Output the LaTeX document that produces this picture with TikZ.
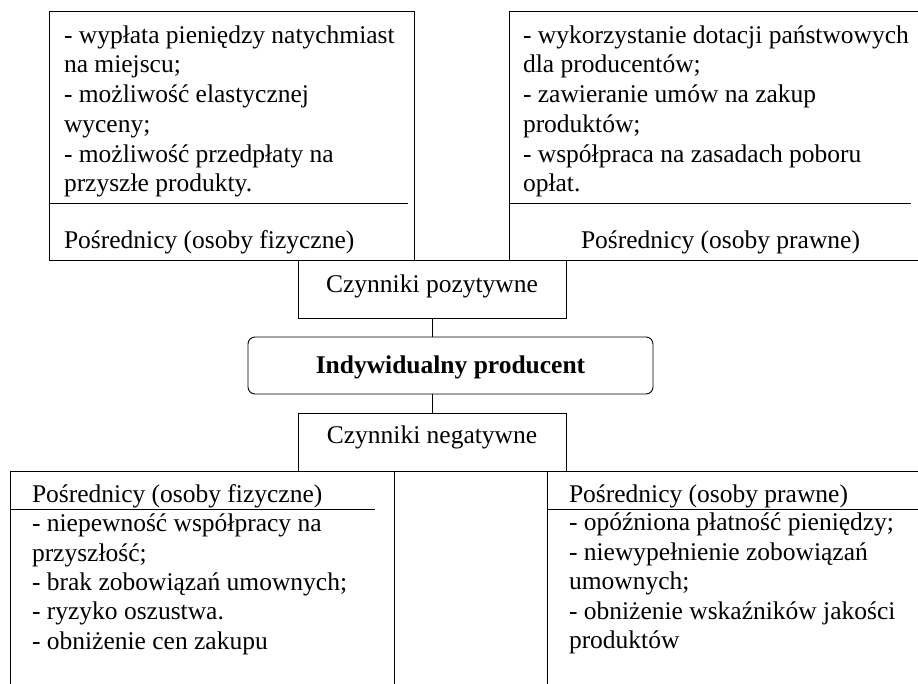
\documentclass[tikz,border=0pt]{standalone}
\usepackage{fontspec}
\setmainfont{Liberation Serif}
\begin{document}
\begin{tikzpicture}[x=1pt,y=-1pt,
  frame/.style={draw=black,line width=0.9pt,inner sep=0pt,outer sep=0pt},
  txt/.style={anchor=base west,inner sep=0pt,outer sep=0pt,align=left,
    font=\fontsize{25.5}{29.7}\selectfont},
  btxt/.style={txt,font=\fontsize{25.5}{29.4}\selectfont},
  ctxt/.style={anchor=base,inner sep=0pt,outer sep=0pt,
    font=\fontsize{25.5}{29.7}\selectfont},
  rule/.style={draw=black,line width=0.9pt}]
\useasboundingbox[fill=white] (0,0) rectangle (918,683);
\clip (0,0) rectangle (918,683);
% boxes
\node[frame,minimum width=365pt,minimum height=249pt] (tl) at (231.5,135.5) {};
\node[frame,minimum width=431pt,minimum height=249pt] (tr) at (724.5,135.5) {};
\node[frame,minimum width=268pt,minimum height=58pt] (pos) at (432,289) {};
\node[frame,rounded corners=7pt,minimum width=405pt,minimum height=57pt] (ind) at (450.5,365.5) {};
\node[frame,minimum width=268pt,minimum height=58pt] (neg) at (432,442) {};
\node[frame,minimum width=384pt,minimum height=240pt] (bl) at (202,591) {};
\node[frame,minimum width=393pt,minimum height=240pt] (br) at (743.5,591) {};
% connectors
\draw[rule] (pos.south) -- (pos.south |- ind.north);
\draw[rule] (neg.north) -- (neg.north |- ind.south);
% dividers
\draw[rule] (49,203) -- (408,203);
\draw[rule] (509,203) -- (911,203);
\draw[rule] (10,509) -- (375,509);
\draw[rule] (547,509) -- (918,509);
% texts
\node[txt] (tlt) at (64,191.7) {- wypłata pieniędzy natychmiast\\na miejscu;\\- możliwość elastycznej\\wyceny;\\- możliwość przedpłaty na\\przyszłe produkty.};
\node[txt] (tlh) at (64,248) {Pośrednicy (osoby fizyczne)};
\node[txt] (trt) at (523,191.7) {- wykorzystanie dotacji państwowych\\dla producentów;\\- zawieranie umów na zakup\\produktów;\\- współpraca na zasadach poboru\\opłat.};
\node[txt] (trh) at (581,248) {Pośrednicy (osoby prawne)};
\node[ctxt] (post) at (432,292) {Czynniki pozytywne};
\node[ctxt,font=\fontsize{25.5}{29.7}\selectfont\bfseries] (indt) at (450.5,373) {Indywidualny producent};
\node[ctxt] (negt) at (432,443) {Czynniki negatywne};
\node[txt] (blh) at (32,502) {Pośrednicy (osoby fizyczne)};
\node[btxt] (blt) at (32,649.3) {- niepewność współpracy na\\przyszłość;\\- brak zobowiązań umownych;\\- ryzyko oszustwa.\\- obniżenie cen zakupu};
\node[txt] (brh) at (569,502) {Pośrednicy (osoby prawne)};
\node[btxt] (brt) at (569,648.5) {- opóźniona płatność pieniędzy;\\- niewypełnienie zobowiązań\\umownych;\\- obniżenie wskaźników jakości\\produktów};
\end{tikzpicture}
\end{document}
